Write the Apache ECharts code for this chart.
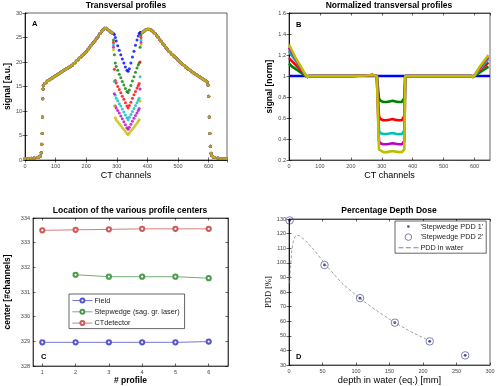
<!DOCTYPE html>
<html>
<head>
<meta charset="utf-8">
<script src="https://cdn.jsdelivr.net/npm/echarts@6/dist/echarts.min.js"></script>
<style>
  html, body { margin: 0; padding: 0; background: #fff; }
  #chart { width: 498px; height: 386px; }
</style>
</head>
<body>
<div id="chart"></div>
<script>
// ---- panel A: raw transversal profiles (shared outer part + one dip per profile)
const profileLeftX = [0, 10, 20, 30, 40, 45, 50, 53, 55, 56, 57, 58, 59,
  60, 65, 70, 75, 80, 85, 90, 95, 100, 105, 110, 115, 120, 125, 130, 135, 140, 145, 150, 155,
  160, 165, 170, 175, 180, 185, 190, 195, 200, 205, 210, 215, 220, 225, 230, 235, 240, 245,
  250, 255, 260, 265, 270, 275, 280, 285];
const profileLeftY = [0.3, 0.3, 0.35, 0.4, 0.5, 0.6, 0.8, 1.5, 3.2, 5.4, 8.8, 12.5, 14.5,
  15.2, 15.6, 15.9, 16.2, 16.4, 16.6, 16.8, 17.0, 17.2, 17.4, 17.6, 17.8, 18.0, 18.2, 18.4, 18.6, 18.8, 19.0, 19.2, 19.4,
  19.7, 20.0, 20.3, 20.6, 20.9, 21.2, 21.5, 21.8, 22.1, 22.5, 22.9, 23.3, 23.7, 24.1, 24.5, 24.9, 25.3, 25.8,
  26.2, 26.6, 26.9, 26.9, 26.7, 26.4, 26.1, 25.9];
const profileRightX = [383, 387, 391, 395,
  400, 405, 410, 415, 420, 425, 430, 435, 440, 445, 450, 455, 460, 465, 470, 475, 480, 485, 490, 495,
  500, 505, 510, 515, 520, 525, 530, 535, 540, 545, 550, 555, 560, 565, 570, 575, 580, 585, 590, 595,
  598, 600, 602, 604, 606, 608, 610, 615, 620, 630, 640, 650, 658];
const profileRightY = [26.0, 26.2, 26.4, 26.6,
  26.7, 26.7, 26.6, 26.4, 26.1, 25.8, 25.4, 25.0, 24.6, 24.2, 23.8, 23.4, 23.0, 22.6, 22.2, 21.9, 21.6, 21.3, 21.0, 20.7,
  20.4, 20.1, 19.8, 19.5, 19.3, 19.0, 18.8, 18.5, 18.3, 18.0, 17.8, 17.6, 17.4, 17.2, 17.0, 16.8, 16.6, 16.4, 16.2, 15.9,
  15.3, 13.0, 8.8, 5.4, 2.8, 1.4, 0.9, 0.6, 0.5, 0.4, 0.3, 0.3, 0.3];
const dipX = [289, 292, 295, 298, 303, 308, 313, 318, 323, 328, 333, 337, 341, 346, 351, 356, 361, 366, 370, 373, 376, 379];
const dipBlue = [25.8, 25.6, 25.0, 24.3, 23.3, 22.4, 21.5, 20.6, 19.8, 19.0, 18.3, 18.1, 18.6, 19.8, 21.0, 22.2, 23.4, 24.5, 25.3, 25.8, 26.0, 26.0];
const dipGreen = [24.5, 21.5, 19.8, 19.1, 18.3, 17.5, 16.8, 16.0, 15.3, 14.6, 14.0, 13.8, 14.3, 15.2, 16.1, 17.0, 17.9, 18.8, 19.4, 19.8, 23.0, 25.5];
const dipRed = [24.0, 18.5, 16.2, 15.7, 15.0, 14.4, 13.7, 13.0, 12.4, 11.7, 11.0, 10.6, 11.1, 11.8, 12.6, 13.3, 14.0, 14.7, 15.2, 15.6, 20.0, 25.0];
const dipCyan = [23.5, 16.0, 13.2, 12.6, 12.1, 11.5, 11.0, 10.4, 9.8, 9.2, 8.6, 8.2, 8.7, 9.3, 9.9, 10.5, 11.1, 11.7, 12.2, 12.6, 17.0, 24.5];
const dipMagenta = [23.0, 13.5, 11.0, 10.6, 10.1, 9.6, 9.0, 8.4, 7.8, 7.2, 6.6, 6.3, 6.7, 7.3, 7.9, 8.5, 9.1, 9.6, 10.1, 10.5, 14.5, 24.0];
const dipYellow = [22.5, 11.0, 8.6, 8.2, 7.8, 7.4, 7.0, 6.6, 6.2, 5.8, 5.4, 5.2, 5.5, 5.9, 6.3, 6.7, 7.1, 7.5, 7.9, 8.2, 12.0, 23.5];

// ---- panel B: normalized profiles
const bBlueX = [0, 650];
const bBlueY = [1, 1];
const bLeftX = [0, 10, 20, 30, 40, 50, 58, 66];
const bLeftGreen = [1.12, 1.09, 1.07, 1.05, 1.03, 1.01, 0.99, 1.0];
const bLeftRed = [1.17, 1.14, 1.11, 1.08, 1.05, 1.02, 0.99, 1.0];
const bLeftCyan = [1.24, 1.19, 1.15, 1.11, 1.07, 1.02, 0.99, 1.0];
const bLeftMagenta = [1.27, 1.22, 1.17, 1.12, 1.07, 1.02, 0.99, 1.0];
const bLeftYellow = [1.30, 1.24, 1.18, 1.13, 1.08, 1.03, 0.99, 1.0];
const bMidX = [120, 200, 250, 270, 284];
const bMidY = [1.0, 1.0, 1.005, 1.01, 1.0];
const bDipX = [289, 291, 295, 305, 315, 325, 335, 345, 355, 365, 370, 373, 376];
const bDipGreen = [1.0, 0.79, 0.765, 0.752, 0.752, 0.758, 0.764, 0.756, 0.752, 0.754, 0.762, 0.79, 1.0];
const bDipRed = [1.0, 0.62, 0.59, 0.578, 0.578, 0.584, 0.59, 0.582, 0.578, 0.58, 0.588, 0.62, 1.0];
const bDipCyan = [1.0, 0.48, 0.458, 0.448, 0.447, 0.452, 0.458, 0.45, 0.446, 0.448, 0.456, 0.48, 1.0];
const bDipMagenta = [1.0, 0.38, 0.36, 0.35, 0.35, 0.354, 0.36, 0.354, 0.35, 0.35, 0.358, 0.38, 1.0];
const bDipYellow = [1.0, 0.30, 0.285, 0.275, 0.275, 0.28, 0.285, 0.28, 0.275, 0.275, 0.282, 0.30, 1.0];
const bRightMidX = [382, 450, 520, 588];
const bRightMidY = [1.0, 1.0, 1.0, 1.0];
const bRightX = [596, 605, 615, 625, 635, 645];
const bRightGreen = [0.99, 1.01, 1.03, 1.05, 1.07, 1.09];
const bRightRed = [0.99, 1.02, 1.05, 1.08, 1.10, 1.13];
const bRightCyan = [0.99, 1.02, 1.06, 1.09, 1.13, 1.16];
const bRightMagenta = [0.99, 1.03, 1.07, 1.11, 1.15, 1.18];
const bRightYellow = [0.99, 1.03, 1.08, 1.12, 1.16, 1.20];

// ---- panel C: profile centers
const cProfiles = [1, 2, 3, 4, 5, 6];
const cField = [328.96, 328.96, 328.96, 328.96, 328.96, 328.99];
const cStepwedge = [null, 331.70, 331.62, 331.62, 331.62, 331.56];
const cDetector = [333.50, 333.52, 333.54, 333.56, 333.56, 333.56];
const cNames = ['Field', 'Stepwedge (sag. gr. laser)', 'CTdetector'];

// ---- panel D: percentage depth dose
const dDepth = [1, 53, 106, 158, 210, 263];
const dPdd = [129, 98.5, 75.8, 59, 46.2, 36.6];
const waterDepth = [1, 2, 4, 6, 9, 12, 16, 25, 39, 54, 79, 106, 133, 158, 183, 208];
const waterPdd = [86, 95, 108, 114, 118, 119, 118.5, 115, 108, 99, 86, 75.5, 66.5, 59, 52.5, 47];
const dNames = ["'Stepwedge PDD 1'", "'Stepwedge PDD 2'", 'PDD in water'];

const profileColors = ['#0000ff', '#008000', '#ff0000', '#00bfbf', '#bf00bf', '#bfbf00'];
const FONT = 'Liberation Sans, Arial, sans-serif';

const zip = (xs, ys) => xs.map((x, i) => [x, ys[i]]).filter(p => p[1] != null);

const chart = echarts.init(document.getElementById('chart'), null, { renderer: 'canvas' });

const grids = [
  { left: 25, top: 13, width: 202, height: 147 },
  { left: 289, top: 13, width: 201, height: 147 },
  { left: 33, top: 218, width: 195, height: 148 },
  { left: 289, top: 219, width: 201, height: 147 }
].map(g => Object.assign(g, { show: true, borderColor: '#000', borderWidth: 0.6, backgroundColor: '#fff' }));

const lineStyle = { color: '#000', width: 0.6 };

function axis(gridIndex, min, max, interval, extra) {
  return Object.assign({
    gridIndex, type: 'value', min, max, interval,
    axisLine: { show: true, lineStyle },
    axisTick: { show: true, inside: true, length: 2.5, lineStyle },
    axisLabel: { fontSize: 5.5, color: '#444', margin: 3, fontFamily: FONT, showMaxLabel: max % interval === 0 },
    splitLine: { show: false }
  }, extra);
}

function mirror(a, position) {
  return Object.assign({}, a, {
    position, name: '',
    axisLabel: { show: false },
    axisTick: Object.assign({}, a.axisTick),
  });
}

function axisName(text, gap, bold, size, family) {
  return {
    name: text, nameLocation: 'middle', nameGap: gap,
    nameTextStyle: { fontSize: size, fontWeight: bold ? 'bold' : 'normal', color: '#000', fontFamily: family || FONT }
  };
}

const xAxes = [
  axis(0, 0, 660, 100, axisName('CT channels', 11, false, 9)),
  axis(1, 0, 650, 100, axisName('CT channels', 11, false, 9)),
  axis(2, 0.72, 6.58, 1, Object.assign(axisName('# profile', 10, true, 8.5), {
    axisTick: { show: true, inside: true, length: 2.5, lineStyle, customValues: cProfiles },
    axisLabel: { fontSize: 5.5, color: '#444', margin: 3, fontFamily: FONT, customValues: cProfiles }
  })),
  axis(3, 0, 300, 50, axisName('depth in water (eq.) [mm]', 11, false, 9.3))
];
const yAxes = [
  axis(0, 0, 30, 5, axisName('signal [a.u.]', 10, true, 8.5)),
  axis(1, 0.2, 1.6, 0.2, axisName('signal [norm]', 11, true, 8.5)),
  axis(2, 328, 334, 1, axisName('center [#channels]', 21, true, 8.5)),
  axis(3, 30, 130, 10, axisName('PDD [%]', 11, false, 8.5, 'Liberation Serif, Times New Roman, serif'))
];
const xAll = xAxes.concat(xAxes.map(a => mirror(a, 'top')));
const yAll = yAxes.concat(yAxes.map(a => mirror(a, 'right')));

// panel A series
const dipSets = [dipBlue, dipGreen, dipRed, dipCyan, dipMagenta, dipYellow];
const seriesA = dipSets.map((dip, i) => ({
  name: 'A' + i, type: 'scatter', xAxisIndex: 0, yAxisIndex: 0,
  symbol: 'circle', symbolSize: 3, silent: true,
  itemStyle: { color: profileColors[i] },
  data: zip(profileLeftX, profileLeftY).concat(zip(dipX, dip), zip(profileRightX, profileRightY))
}));

// panel B series
const bSets = [
  [bLeftGreen, bDipGreen, bRightGreen],
  [bLeftRed, bDipRed, bRightRed],
  [bLeftCyan, bDipCyan, bRightCyan],
  [bLeftMagenta, bDipMagenta, bRightMagenta],
  [bLeftYellow, bDipYellow, bRightYellow]
];
const seriesB = [{
  name: 'B0', type: 'line', xAxisIndex: 1, yAxisIndex: 1, showSymbol: false, silent: true,
  lineStyle: { color: profileColors[0], width: 2.6 }, data: zip(bBlueX, bBlueY)
}].concat(bSets.map((s, i) => ({
  name: 'B' + (i + 1), type: 'line', xAxisIndex: 1, yAxisIndex: 1, showSymbol: false, silent: true,
  lineStyle: { color: profileColors[i + 1], width: 2.6 },
  data: zip(bLeftX, s[0]).concat(zip(bMidX, bMidY), zip(bDipX, s[1]), zip(bRightMidX, bRightMidY), zip(bRightX, s[2]))
})));

// panel C series
const cColors = ['#5656cc', '#4c9a4c', '#cc5a5a'];
const seriesC = [cField, cStepwedge, cDetector].map((vals, i) => ({
  name: cNames[i], type: 'line', xAxisIndex: 2, yAxisIndex: 2,
  symbol: 'emptyCircle', symbolSize: 4.2, silent: true,
  itemStyle: { color: cColors[i], borderWidth: 0.8 },
  lineStyle: { color: cColors[i], width: 0.8 },
  data: zip(cProfiles, vals)
}));

// panel D series
const navy = '#1a1a80';
const ringColor = '#3a3a90';
const seriesD = [
  {
    name: dNames[2], type: 'line', xAxisIndex: 3, yAxisIndex: 3, symbol: 'none', silent: true,
    lineStyle: { color: '#888', width: 0.8, type: [3, 2] }, itemStyle: { color: '#888' },
    data: zip(waterDepth, waterPdd)
  },
  {
    name: dNames[1], type: 'scatter', xAxisIndex: 3, yAxisIndex: 3, symbol: 'circle', symbolSize: 7.5, silent: true,
    itemStyle: { color: 'rgba(255,255,255,0)', borderColor: ringColor, borderWidth: 0.8 },
    data: zip(dDepth, dPdd)
  },
  {
    name: dNames[0], type: 'scatter', xAxisIndex: 3, yAxisIndex: 3, symbol: 'circle', symbolSize: 2.8, silent: true,
    itemStyle: { color: navy },
    data: zip(dDepth, dPdd)
  }
];

const titleStyle = { fontSize: 8.5, fontWeight: 'bold', color: '#000', fontFamily: FONT };
const letter = (text, x, y) => ({
  type: 'text', left: x, top: y, z: 100,
  style: { text, fontSize: 7.5, fontWeight: 'bold', fill: '#000', fontFamily: FONT }
});
const legendText = { fontSize: 7.3, color: '#222', fontFamily: FONT, padding: [0, 0, 0, -3] };

const option = {
  animation: false,
  backgroundColor: '#fff',
  title: [
    { text: 'Transversal profiles', left: 126, top: 1, textAlign: 'center', textStyle: titleStyle, padding: 0 },
    { text: 'Normalized transversal profiles', left: 389, top: 1, textAlign: 'center', textStyle: titleStyle, padding: 0 },
    { text: 'Location of the various profile centers', left: 130, top: 206, textAlign: 'center', textStyle: titleStyle, padding: 0 },
    { text: 'Percentage Depth Dose', left: 389, top: 206, textAlign: 'center', textStyle: titleStyle, padding: 0 }
  ],
  legend: [
    {
      data: cNames,
      orient: 'vertical', left: 69, top: 294,
      itemWidth: 20, itemHeight: 5, itemGap: 4.3, padding: [3, 5, 2, 3],
      itemStyle: { borderWidth: 0.8 },
      lineStyle: { width: 0.8 },
      borderColor: '#000', borderWidth: 0.6, backgroundColor: '#fff',
      textStyle: legendText, selectedMode: false
    },
    {
      data: [
        { name: dNames[0], icon: 'path://M0,0M20,7M10,3.5m-1.3,0a1.3,1.3 0 1 0 2.6,0a1.3,1.3 0 1 0 -2.6,0z',
          itemStyle: { color: navy, borderWidth: 0 } },
        { name: dNames[1], icon: 'path://M0,0M20,7M10,0.2a3.3,3.3 0 1 0 0.01,0z',
          itemStyle: { color: 'rgba(255,255,255,0)', borderColor: ringColor, borderWidth: 0.8 } },
        { name: dNames[2], icon: 'path://M0,0M20,7M0,3L5,3L5,4L0,4zM7.5,3L12.5,3L12.5,4L7.5,4zM15,3L20,3L20,4L15,4z',
          itemStyle: { color: '#888', borderWidth: 0 } }
      ],
      orient: 'vertical', left: 395, top: 221,
      itemWidth: 20, itemHeight: 7, itemGap: 3.2, padding: [2, 3, 2, 3],
      borderColor: '#000', borderWidth: 0.6, backgroundColor: '#fff',
      textStyle: legendText, selectedMode: false
    }
  ],
  grid: grids,
  xAxis: xAll,
  yAxis: yAll,
  graphic: [
    letter('A', 32, 20),
    letter('B', 296, 21),
    letter('C', 41, 353),
    letter('D', 296, 353)
  ],
  series: seriesA.concat(seriesB, seriesC, seriesD)
};

chart.setOption(option);
</script>
</body>
</html>
